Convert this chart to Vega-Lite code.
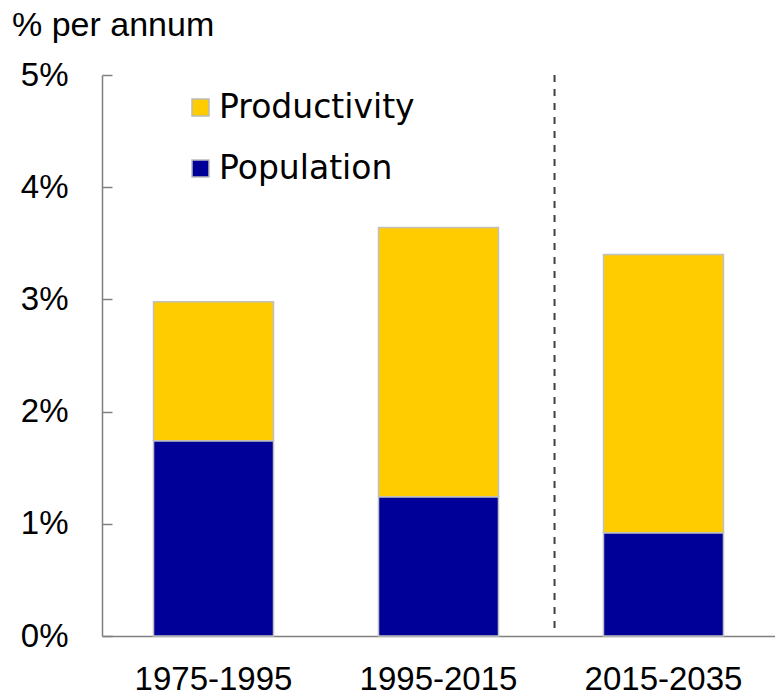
{
  "$schema": "https://vega.github.io/schema/vega-lite/v6.json",
  "width": 673,
  "height": 561,
  "autosize": "none",
  "padding": {"left": 102, "top": 75, "right": 0, "bottom": 60},
  "background": "white",
  "config": {"view": {"stroke": null}, "font": "Liberation Sans"},
  "title": {"text": "% per annum", "anchor": "start", "frame": "group", "orient": "top", "dx": -90, "dy": 21, "offset": 10, "fontSize": 34, "fontWeight": "normal", "color": "#000000", "baseline": "alphabetic", "font": "Liberation Sans"},
  "layer": [
    {
      "data": {"values": [
        {"period": "1975-1995", "component": "Population", "value": 1.74, "ord": 1},
        {"period": "1975-1995", "component": "Productivity", "value": 1.24, "ord": 2},
        {"period": "1995-2015", "component": "Population", "value": 1.24, "ord": 1},
        {"period": "1995-2015", "component": "Productivity", "value": 2.40, "ord": 2},
        {"period": "2015-2035", "component": "Population", "value": 0.92, "ord": 1},
        {"period": "2015-2035", "component": "Productivity", "value": 2.48, "ord": 2}
      ]},
      "mark": {"type": "bar", "stroke": "#C0C0C0", "strokeWidth": 1.5},
      "encoding": {
        "x": {"field": "period", "type": "nominal", "sort": null,
          "scale": {"paddingInner": 0.4667, "paddingOuter": 0.229},
          "axis": {"title": null, "labelAngle": 0, "ticks": false, "domainColor": "#808080", "domainWidth": 1.5, "labelFontSize": 33, "labelPadding": 27, "labelColor": "#000000"}},
        "y": {"field": "value", "type": "quantitative", "stack": "zero",
          "scale": {"domain": [0, 5], "nice": false},
          "axis": {"title": null, "values": [0, 1, 2, 3, 4, 5], "labelExpr": "datum.value + '%'", "grid": false, "tickSize": -10, "tickColor": "#808080", "tickWidth": 1.5, "domainColor": "#808080", "domainWidth": 1.5, "labelFontSize": 33, "labelPadding": 44, "labelColor": "#000000"}},
        "color": {"field": "component", "type": "nominal",
          "scale": {"domain": ["Productivity", "Population"], "range": ["#FFCC00", "#000099"]},
          "legend": {"orient": "none", "legendX": 82, "legendY": 16, "title": null, "symbolType": "square", "symbolSize": 289, "symbolStrokeColor": "#BBBBBB", "symbolStrokeWidth": 1.5, "symbolOpacity": 1, "labelFont": "DejaVu Sans", "labelFontSize": 33, "labelOffset": 2, "labelLimit": 400, "rowPadding": 27, "labelColor": "#000000"}},
        "order": {"field": "ord", "type": "quantitative"}
      }
    },
    {
      "data": {"values": [{"period": "2015-2035", "top": 5, "bot": 0.06}]},
      "mark": {"type": "rule", "strokeDash": [7, 7], "color": "#404040", "strokeWidth": 2},
      "encoding": {
        "x": {"field": "period", "type": "nominal", "bandPosition": -0.408},
        "y": {"field": "top", "type": "quantitative"},
        "y2": {"field": "bot"}
      }
    }
  ]
}
